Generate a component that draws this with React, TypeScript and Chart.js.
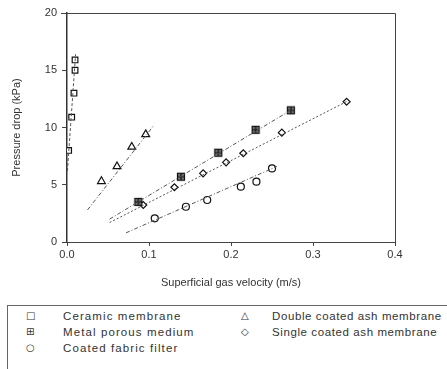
import React, { useEffect, useRef } from "react";
import { Chart, registerables } from "chart.js";

Chart.register(...registerables);

// ---- data ----
const ceramicX = [0.002, 0.0057, 0.0085, 0.0098, 0.0098];
const ceramicY = [8.0, 10.9, 13.0, 15.0, 15.9];
const metalX = [0.087, 0.139, 0.1845, 0.23, 0.273];
const metalY = [3.5, 5.7, 7.8, 9.8, 11.5];
const fabricX = [0.107, 0.145, 0.171, 0.212, 0.231, 0.25];
const fabricY = [2.07, 3.08, 3.67, 4.83, 5.27, 6.43];
const doubleX = [0.042, 0.061, 0.079, 0.096];
const doubleY = [5.3, 6.6, 8.3, 9.4];
const singleX = [0.093, 0.131, 0.166, 0.194, 0.215, 0.262, 0.341];
const singleY = [3.23, 4.78, 6.0, 6.96, 7.75, 9.55, 12.25];

// fitted lines (end points)
const ceramicFitX = [0.0005, 0.0105];
const ceramicFitY = [6.2, 16.4];
const doubleFitX = [0.025, 0.105];
const doubleFitY = [2.8, 10.1];
const metalFitX = [0.052, 0.275];
const metalFitY = [2.0, 11.6];
const singleFitX = [0.052, 0.342];
const singleFitY = [1.7, 12.3];
const fabricFitX = [0.072, 0.256];
const fabricFitY = [0.8, 6.6];

const xTicks = [0, 0.1, 0.2, 0.3, 0.4];
const yTicks = [0, 5, 10, 15, 20];
const xTitle = "Superficial gas velocity (m/s)";
const yTitle = "Pressure drop (kPa)";

const legendRows = [
  [
    { sym: "\u25A1", label: "Ceramic membrane" },
    { sym: "\u25B3", label: "Double coated ash membrane" },
  ],
  [
    { sym: "\u229E", label: "Metal porous medium" },
    { sym: "\u25C7", label: "Single coated ash membrane" },
  ],
  [{ sym: "\u25CB", label: "Coated fabric filter" }],
];

const pts = (xs: number[], ys: number[]) => xs.map((x, i) => ({ x, y: ys[i] }));

const INK = "#333";
const FONT = "'Liberation Sans', Arial, sans-serif";

function metalMarker(): HTMLCanvasElement {
  const c = document.createElement("canvas");
  c.width = 10;
  c.height = 10;
  const g = c.getContext("2d")!;
  g.fillStyle = "#777";
  g.fillRect(1, 1, 8, 8);
  g.strokeStyle = "#111";
  g.lineWidth = 1.2;
  g.strokeRect(1.5, 1.5, 7, 7);
  g.beginPath();
  g.moveTo(5, 1.5);
  g.lineTo(5, 8.5);
  g.moveTo(1.5, 5);
  g.lineTo(8.5, 5);
  g.stroke();
  return c;
}

const framePlugin = {
  id: "frame",
  afterDraw(chart: any) {
    const { ctx, chartArea: a } = chart;
    ctx.save();
    ctx.strokeStyle = "#444";
    ctx.lineWidth = 1;
    ctx.beginPath();
    ctx.moveTo(a.left - 6, a.top + 0.5);
    ctx.lineTo(a.right + 0.5, a.top + 0.5);
    ctx.lineTo(a.right + 0.5, a.bottom);
    ctx.stroke();
    ctx.restore();
  },
};

export default function App() {
  const ref = useRef<HTMLCanvasElement | null>(null);

  useEffect(() => {
    if (!ref.current) return;
    const fit = (xs: number[], ys: number[], dash: number[]) => ({
      type: "line" as const,
      data: pts(xs, ys),
      showLine: true,
      borderColor: "#555",
      borderWidth: 1,
      borderDash: dash,
      pointRadius: 0,
      fill: false,
    });
    const sc = (xs: number[], ys: number[], style: any, r: number, bg = "#fff") => ({
      type: "scatter" as const,
      data: pts(xs, ys),
      pointStyle: style,
      pointRadius: r,
      borderColor: "#111",
      backgroundColor: bg,
      borderWidth: 1.2,
    });
    const chart = new Chart(ref.current, {
      type: "scatter",
      data: {
        datasets: [
          fit(ceramicFitX, ceramicFitY, [3, 2]),
          fit(doubleFitX, doubleFitY, [4, 2, 1, 2]),
          fit(metalFitX, metalFitY, [4, 2, 1, 2]),
          fit(singleFitX, singleFitY, [2, 2]),
          fit(fabricFitX, fabricFitY, [4, 2, 1, 2]),
          sc(ceramicX, ceramicY, "rect", 4),
          sc(doubleX, doubleY, "triangle", 4.5),
          sc(metalX, metalY, metalMarker(), 5),
          sc(singleX, singleY, "rectRot", 3.5),
          sc(fabricX, fabricY, "circle", 3.5),
        ] as any,
      },
      options: {
        animation: false,
        responsive: false,
        layout: { padding: { left: 0, right: 52, top: 13, bottom: 10 } },
        plugins: { legend: { display: false }, tooltip: { enabled: false } },
        scales: {
          x: {
            type: "linear",
            min: 0,
            max: 0.4,
            afterBuildTicks: (s: any) => {
              s.ticks = xTicks.map((v) => ({ value: v }));
            },
            ticks: {
              color: INK,
              font: { family: FONT, size: 11 },
              padding: 2,
              callback: (v: any) => Number(v).toFixed(1),
            },
            grid: { drawOnChartArea: false, drawTicks: true, tickLength: 4, color: "#444" },
            border: { display: true, color: "#444", width: 1 },
            title: {
              display: true,
              text: xTitle,
              color: INK,
              font: { family: FONT, size: 11 },
              padding: { top: 0, bottom: 0 },
            },
            afterFit: (s: any) => {
              s.height = 48;
            },
          },
          y: {
            type: "linear",
            min: 0,
            max: 20,
            afterBuildTicks: (s: any) => {
              s.ticks = yTicks.map((v) => ({ value: v }));
            },
            ticks: { color: INK, font: { family: FONT, size: 11 }, padding: 5 },
            grid: { drawOnChartArea: false, drawTicks: true, tickLength: 5, color: "#444" },
            border: { display: true, color: "#333", width: 1.5 },
            title: {
              display: true,
              text: yTitle,
              color: INK,
              font: { family: FONT, size: 11 },
              padding: { top: 10, bottom: 0 },
            },
            afterFit: (s: any) => {
              s.width = 67;
            },
          },
        },
      },
      plugins: [framePlugin],
    });
    return () => chart.destroy();
  }, []);

  return (
    <div style={{ position: "absolute", left: 0, top: 0, width: 447, height: 369, background: "#fff", overflow: "hidden" }}>
      <canvas ref={ref} width={447} height={300} style={{ position: "absolute", left: 0, top: 0 }} />
      <div
        style={{
          position: "absolute",
          left: 7,
          top: 305,
          width: 446,
          height: 70,
          border: "1px solid #666",
          boxSizing: "border-box",
          fontFamily: FONT,
          fontSize: 11.5,
          color: INK,
          letterSpacing: 0.7,
        }}
      >
        {legendRows.map((row, ri) => (
          <div key={ri} style={{ position: "absolute", top: 2 + ri * 16, left: 0, height: 16, width: "100%" }}>
            {row.map((it, ci) => (
              <React.Fragment key={ci}>
                <span
                  style={{
                    position: "absolute",
                    left: ci === 0 ? 18 : 233,
                    top: 0,
                    lineHeight: "16px",
                    fontFamily: "'DejaVu Sans', sans-serif",
                    fontSize: 10,
                    letterSpacing: 0,
                  }}
                >
                  {it.sym}
                </span>
                <span
                  style={{
                    position: "absolute",
                    left: ci === 0 ? 55 : 264,
                    top: 0,
                    lineHeight: "16px",
                    whiteSpace: "nowrap",
                    letterSpacing: ci === 0 ? 1.1 : 0.6,
                  }}
                >
                  {it.label}
                </span>
              </React.Fragment>
            ))}
          </div>
        ))}
      </div>
    </div>
  );
}
